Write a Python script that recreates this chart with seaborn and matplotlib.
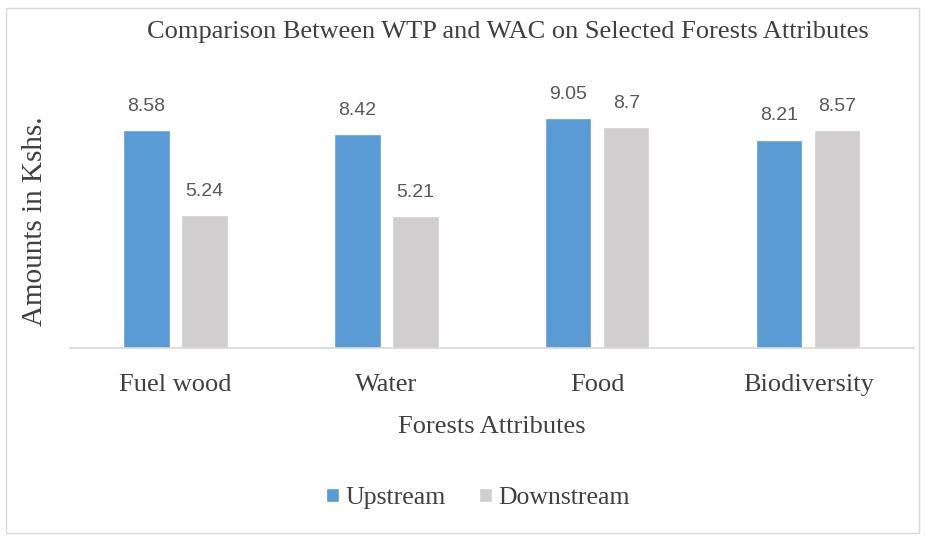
import pandas as pd
import matplotlib
matplotlib.use("Agg")
import matplotlib.pyplot as plt
import seaborn as sns
from matplotlib.patches import Rectangle

# values
attributes = ['Fuel wood', 'Water', 'Food', 'Biodiversity']
upstream = [8.58, 8.42, 9.05, 8.21]
downstream = [5.24, 5.21, 8.7, 8.57]
labels_up = ['8.58', '8.42', '9.05', '8.21']
labels_down = ['5.24', '5.21', '8.7', '8.57']

df = pd.DataFrame({
    'attribute': attributes * 2,
    'amount': upstream + downstream,
    'zone': ['Upstream'] * 4 + ['Downstream'] * 4,
})

sns.set_theme(style='white')
plt.rcParams['font.family'] = ['Liberation Serif', 'DejaVu Serif']

fig = plt.figure(figsize=(9.25, 5.38), dpi=100)
ax = fig.add_axes([0.0757, 0.353, 0.912, 0.472])

sns.barplot(data=df, x='attribute', y='amount', hue='zone',
            palette={'Upstream': '#5B9BD5', 'Downstream': '#D0CECE'},
            width=0.55, gap=0.2, ax=ax, saturation=1)

ax.set_ylim(0, 10)
ax.set_xlim(-0.5, 3.5)
ax.set_yticks([])
for s in ['top', 'right', 'left']:
    ax.spines[s].set_visible(False)
ax.spines['bottom'].set_color('#D9D9D9')
ax.spines['bottom'].set_linewidth(1.2)

# data labels
for cont, labs in zip(ax.containers, [labels_up, labels_down]):
    ax.bar_label(cont, labels=labs, padding=11, fontsize=14,
                 color='#595959', family=['Liberation Sans', 'DejaVu Sans'])

ax.tick_params(axis='x', length=0, pad=19, labelsize=19, labelcolor='#404040')
ax.set_xlabel('Forests Attributes', fontsize=19, color='#404040', labelpad=14)
ax.set_ylabel('Amounts in Kshs.', fontsize=21, color='#404040', labelpad=16)

fig.text(0.549, 0.94, 'Comparison Between WTP and WAC on Selected Forests Attributes',
         ha='center', va='center', fontsize=19, color='#404040')

ax.legend(loc='center', bbox_to_anchor=(0.517, 0.074), bbox_transform=fig.transFigure,
          ncol=2, frameon=False, fontsize=18.5, handlelength=0.5, handleheight=0.5,
          handletextpad=0.25, columnspacing=1.3, labelcolor='#404040')

fig.patches.append(Rectangle((0.006, 0.01), 0.988, 0.975, transform=fig.transFigure,
                             fill=False, edgecolor='#D9D9D9', linewidth=1))

fig.savefig('out.png', dpi=100)
